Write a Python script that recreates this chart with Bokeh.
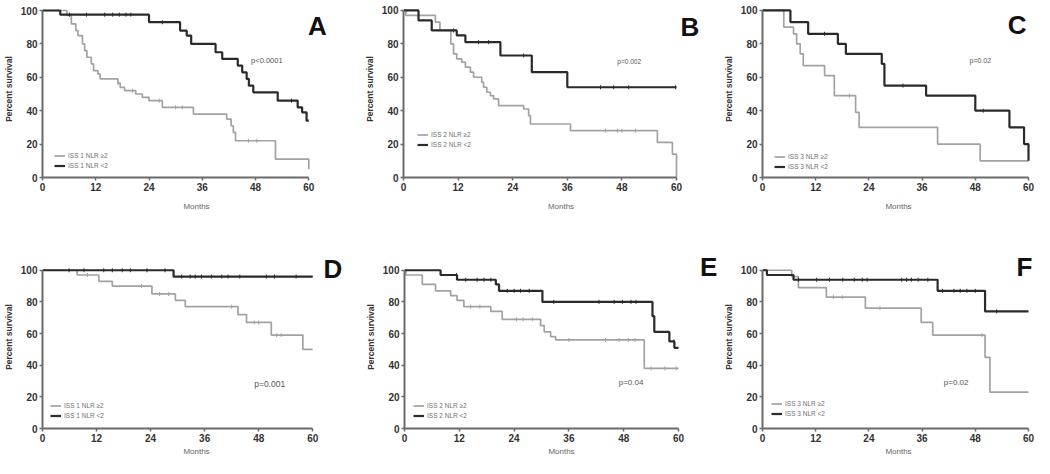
import numpy as np
from bokeh.plotting import figure
from bokeh.models import Range1d, Legend, LegendItem, Label, FixedTicker
from bokeh.layouts import column, row
from bokeh.embed import file_html
from bokeh.resources import INLINE

MONTH_TICKS = [0, 12, 24, 36, 48, 60]
PCT_TICKS = [0, 20, 40, 60, 80, 100]

# ---------------- Panel A (ISS 1) ----------------
a_hi_t = [0, 5.5, 6.5, 7.5, 8, 9, 9.5, 10, 11, 11.5, 12.5, 13, 17, 17.5, 18.5, 21, 22.5, 24, 27, 34, 41.5, 42.5, 43, 43.5, 52.5, 60]
a_hi_s = [100, 97, 92, 88, 85, 80, 76, 72, 68, 64, 62, 59, 56.5, 54, 52, 50, 48, 46, 42, 38, 35, 31, 27, 22, 11, 5]
a_hi_c = [17, 20.3, 26.3, 30, 31.5, 46.4, 48.3]
a_lo_t = [0, 4, 24, 31, 32.5, 33.5, 39, 40.5, 44, 45, 46, 46.5, 47.5, 53, 57.5, 58.5, 59.5, 60]
a_lo_s = [100, 97.5, 93, 88, 85, 80, 75, 71, 67, 63, 59, 55, 51, 46, 42, 39, 34, 34]
a_lo_c = [6.1, 9.9, 14, 15.8, 17.3, 18.8, 19.9, 27, 56.1]

# ---------------- Panel B (ISS 2) ----------------
b_hi_t = [0, 0.5, 7, 8, 10.4, 11, 11.7, 12.8, 13.6, 14.7, 15.4, 17.2, 17.6, 18.3, 19.1, 19.8, 20.9, 26.4, 27.5, 27.9, 36.7, 55.8, 59.1, 60]
b_hi_s = [100, 97, 93, 88, 80, 74, 71, 69, 66, 63, 60, 57, 54, 51, 49, 47, 43, 41, 37, 32, 28, 21, 14, 0]
b_hi_c = [44.4, 47, 48, 51]
b_lo_t = [0, 3.3, 6.2, 11.7, 13.6, 21.3, 28.2, 36, 60]
b_lo_s = [100, 94, 88, 85, 81, 73, 63, 54, 54]
b_lo_c = [11, 16.5, 18.7, 26.4, 43.3, 46.2, 49.5, 59.8]

# ---------------- Panel C (ISS 3) ----------------
c_hi_t = [0, 4.8, 7.0, 7.7, 8.5, 9.2, 14, 16.2, 21, 21.8, 39.5, 49.1, 60]
c_hi_s = [100, 90, 86, 80, 74, 67, 61, 49, 39, 30, 20, 10, 10]
c_hi_c = [19.6]
c_lo_t = [0, 6.3, 10.3, 17, 18.8, 26.9, 27.5, 36.9, 48, 55.7, 59, 60]
c_lo_s = [100, 93, 86, 80, 74, 68, 55, 49, 40, 30, 20, 10]
c_lo_c = [14, 31.7, 49.8]

# ---------------- Panel D (ISS 1) ----------------
d_hi_t = [0, 7.7, 12.5, 15.5, 24.3, 29.5, 31.7, 43.4, 45.3, 50.8, 57.8, 60]
d_hi_s = [100, 97, 93, 90, 85, 81, 77, 72, 67, 59, 50, 50]
d_hi_c = [10, 22, 26, 28, 42, 47, 48, 52, 53]
d_lo_t = [0, 29.1, 60]
d_lo_s = [100, 96, 96]
d_lo_c = [5.9, 9.2, 13.6, 15.5, 17.7, 19.5, 23.2, 27.2, 30.9, 32.8, 33.9, 35.3, 37.5, 39.8, 41.2, 43.8, 49.7, 51.5, 56.3]

# ---------------- Panel E (ISS 2) ----------------
e_hi_t = [0, 0.3, 3.9, 6.8, 10.1, 11.5, 13, 18.9, 21.4, 29.8, 30.6, 32, 33.1, 52.5, 60]
e_hi_s = [100, 97, 91, 87, 84, 81, 77, 74, 69, 65, 61, 58, 56, 38, 38]
e_hi_c = [14.5, 16.5, 24.5, 26, 28, 36, 44, 47, 49, 50.5, 54, 57, 59.5]
e_lo_t = [0, 7.9, 11.5, 20, 20.7, 30.2, 54.3, 54.7, 58, 59.1, 60]
e_lo_s = [100, 97, 94, 91, 87, 80, 71, 61, 55, 51, 51]
e_lo_c = [11.4, 13.4, 15.9, 17.4, 18.9, 22.5, 24, 25.4, 27.3, 32.7, 42.6, 45.9, 47.7, 49.6, 50.7, 59]

# ---------------- Panel F (ISS 3) ----------------
f_hi_t = [0, 6.6, 8.1, 14.4, 23.2, 35.8, 38.4, 50.2, 51.3, 60]
f_hi_s = [100, 96, 89, 83, 76, 67, 59, 45, 23, 23]
f_hi_c = [16, 18, 26.5, 49.5]
f_lo_t = [0, 1, 7, 39.5, 50.2, 60]
f_lo_s = [100, 97, 94, 87, 74, 74]
f_lo_c = [8.1, 12.2, 15.1, 18.1, 20.7, 22.5, 23.6, 31.4, 32.5, 33.6, 35.1, 37.3, 40.6, 43.2, 44.6, 46.1, 48, 52.8]

panel_letters = ["A", "B", "C", "D", "E", "F"]
p_values = ["p<0.0001", "p=0.002", "p=0.02", "p=0.001", "p=0.04", "p=0.02"]
legend_hi = ["ISS 1 NLR \u22652", "ISS 2 NLR \u22652", "ISS 3 NLR \u22652",
             "ISS 1 NLR \u22652", "ISS 2 NLR \u22652", "ISS 3 NLR \u22652"]
legend_lo = ["ISS 1 NLR <2", "ISS 2 NLR <2", "ISS 3 NLR <2",
             "ISS 1 NLR <2", "ISS 2 NLR <2", "ISS 3 NLR <2"]

LIGHT = "#a2a2a2"
DARK = "#2a2a2a"
AXIS = "#6a6a6a"
FONT = "Liberation Sans"

# layout (pixels): column widths and row heights
H1, H2 = 245, 213
W1, W2, W3 = 350, 368, 316


def step_at(t, s, c):
    t = np.asarray(t, dtype=float)
    s = np.asarray(s, dtype=float)
    idx = np.searchsorted(t, np.asarray(c, dtype=float), side="right") - 1
    return s[idx]


def make_panel(hi, lo, letter, letter_xy, pval, pval_xy, pfont, leg_labels, leg_loc,
               width, height, left, x60, y100, y0, xlab_standoff):
    ppm = (x60 - left) / 60.0
    x_end = 60 + (width - x60) / ppm
    ppp = (y0 - y100) / 100.0
    y_end = 100 + y100 / ppp
    bottom = height - y0
    p = figure(width=width, height=height, x_range=Range1d(0, x_end), y_range=Range1d(0, y_end),
               output_backend="svg", toolbar_location=None,
               min_border_left=left, min_border_right=0, min_border_top=0, min_border_bottom=bottom)
    p.outline_line_color = None
    p.grid.visible = False
    p.background_fill_color = "white"
    p.border_fill_color = "white"
    p.xaxis.ticker = FixedTicker(ticks=MONTH_TICKS)
    p.yaxis.ticker = FixedTicker(ticks=PCT_TICKS)
    p.xaxis.bounds = (0, 60)
    p.yaxis.bounds = (0, 100)
    for ax in (p.xaxis[0], p.yaxis[0]):
        ax.axis_line_color = AXIS
        ax.axis_line_width = 2
        ax.major_tick_line_color = AXIS
        ax.major_tick_line_width = 1.5
        ax.major_tick_out = 3
        ax.major_tick_in = 0
        ax.minor_tick_line_color = None
        ax.major_label_text_font = FONT
        ax.major_label_text_font_size = "10px"
        ax.major_label_text_font_style = "bold"
        ax.major_label_text_color = "#333333"
        ax.major_label_standoff = 2
        ax.axis_label_text_font = FONT
    p.xaxis.axis_label = "Months"
    p.xaxis.axis_label_text_font_size = "8px"
    p.xaxis.axis_label_text_font_style = "normal"
    p.xaxis.axis_label_text_color = "#666666"
    p.xaxis.axis_label_standoff = xlab_standoff
    p.yaxis.axis_label = "Percent survival"
    p.yaxis.axis_label_text_font_size = "8.5px"
    p.yaxis.axis_label_text_font_style = "bold"
    p.yaxis.axis_label_text_color = "#333333"
    p.yaxis.axis_label_standoff = 4

    (ht, hs, hc), (lt, ls, lc) = hi, lo
    r_hi = p.step(ht, hs, mode="after", line_color=LIGHT, line_width=1.7)
    r_lo = p.step(lt, ls, mode="after", line_color=DARK, line_width=2.2)
    p.scatter(hc, step_at(ht, hs, hc), marker="dash", angle=np.pi / 2, size=4,
              line_color=LIGHT, line_width=1)
    p.scatter(lc, step_at(lt, ls, lc), marker="dash", angle=np.pi / 2, size=4,
              line_color=DARK, line_width=1)

    legend = Legend(items=[LegendItem(label=leg_labels[0], renderers=[r_hi]),
                           LegendItem(label=leg_labels[1], renderers=[r_lo])],
                    location=leg_loc, orientation="vertical",
                    background_fill_alpha=0, border_line_alpha=0,
                    padding=0, margin=0, spacing=1,
                    glyph_width=11, glyph_height=9, label_height=9,
                    label_text_font=FONT, label_text_font_size="6.5px",
                    label_text_color="#707070", label_standoff=3)
    p.add_layout(legend)

    p.add_layout(Label(x=pval_xy[0], y=pval_xy[1], text=pval, text_font=FONT,
                       text_font_size=pfont, text_color="#555555", text_baseline="middle"))
    p.add_layout(Label(x=letter_xy[0], y=letter_xy[1], text=letter, text_font=FONT,
                       text_font_size="26px", text_font_style="bold", text_color="#111111",
                       text_baseline="alphabetic"))
    return p


pA = make_panel((a_hi_t, a_hi_s, a_hi_c), (a_lo_t, a_lo_s, a_lo_c), panel_letters[0], (59.8, 91.0),
                p_values[0], (47.0, 70.1), "7.5px", (legend_hi[0], legend_lo[0]), (12, 7),
                W1, H1, 40, 308, 10, 177, 8)
pB = make_panel((b_hi_t, b_hi_s, b_hi_c), (b_lo_t, b_lo_s, b_lo_c), panel_letters[1], (60.9, 89.9),
                p_values[1], (47.0, 69.2), "6.5px", (legend_hi[1], legend_lo[1]), (14, 28),
                W2, H1, 53, 326, 10, 179, 8)
pC = make_panel((c_hi_t, c_hi_s, c_hi_c), (c_lo_t, c_lo_s, c_lo_c), panel_letters[2], (55.3, 91.1),
                p_values[2], (46.7, 69.8), "7px", (legend_hi[2], legend_lo[2]), (12, 6),
                W3, H1, 44, 310, 10, 179, 8)
pD = make_panel((d_hi_t, d_hi_s, d_hi_c), (d_lo_t, d_lo_s, d_lo_c), panel_letters[3], (62.4, 100.6),
                p_values[3], (47.0, 28.2), "8.5px", (legend_hi[3], legend_lo[3]), (8, 8),
                W1, H2, 40, 312, 25, 185, 2)
pE = make_panel((e_hi_t, e_hi_s, e_hi_c), (e_lo_t, e_lo_s, e_lo_c), panel_letters[4], (64.7, 101.9),
                p_values[4], (46.9, 28.8), "8px", (legend_hi[4], legend_lo[4]), (9, 8),
                W2, H2, 54, 328, 25, 185, 2)
pF = make_panel((f_hi_t, f_hi_s, f_hi_c), (f_lo_t, f_lo_s, f_lo_c), panel_letters[5], (57.3, 101.9),
                p_values[5], (40.9, 28.8), "8px", (legend_hi[5], legend_lo[5]), (9, 10),
                W3, H2, 44, 310, 25, 185, 2)

layout = column(row(pA, pB, pC), row(pD, pE, pF))
open("out.html", "w").write(file_html(layout, INLINE))
